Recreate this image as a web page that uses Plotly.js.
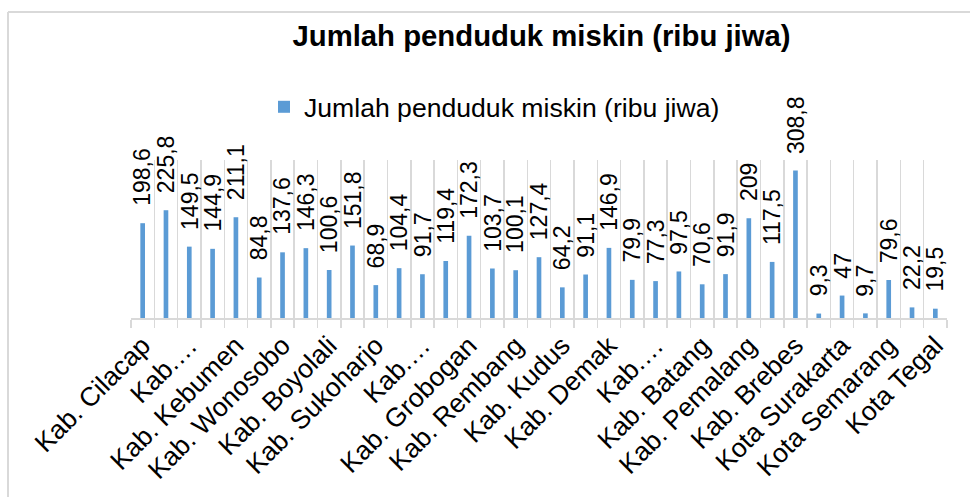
<!DOCTYPE html>
<html>
<head>
<meta charset="utf-8">
<script src="https://cdn.plot.ly/plotly-3.0.1.min.js"></script>
<style>html,body{margin:0;padding:0;background:#fff;}#chart{width:970px;height:497px;}</style>
</head>
<body>
<div id="chart"></div>
<script>
const categories = ["Kab. Cilacap","Kab. Banyumas","Kab. Purbalingga","Kab. Banjarnegara","Kab. Kebumen","Kab. Purworejo","Kab. Wonosobo","Kab. Magelang","Kab. Boyolali","Kab. Klaten","Kab. Sukoharjo","Kab. Wonogiri","Kab. Karanganyar","Kab. Sragen","Kab. Grobogan","Kab. Blora","Kab. Rembang","Kab. Pati","Kab. Kudus","Kab. Jepara","Kab. Demak","Kab. Semarang","Kab. Temanggung","Kab. Kendal","Kab. Batang","Kab. Pekalongan","Kab. Pemalang","Kab. Tegal","Kab. Brebes","Kota Magelang","Kota Surakarta","Kota Salatiga","Kota Semarang","Kota Pekalongan","Kota Tegal"];
const values = [198.6,225.8,149.5,144.9,211.1,84.8,137.6,146.3,100.6,151.8,68.9,104.4,91.7,119.4,172.3,103.7,100.1,127.4,64.2,91.1,146.9,79.9,77.3,97.5,70.6,91.9,209,117.5,308.8,9.3,47,9.7,79.6,22.2,19.5];
const tickLabels = ["Kab. Cilacap","","Kab.…","","Kab. Kebumen","","Kab. Wonosobo","","Kab. Boyolali","","Kab. Sukoharjo","","Kab.…","","Kab. Grobogan","","Kab. Rembang","","Kab. Kudus","","Kab. Demak","","Kab.…","","Kab. Batang","","Kab. Pemalang","","Kab. Brebes","","Kota Surakarta","","Kota Semarang","","Kota Tegal"];
const seriesName = "Jumlah penduduk miskin (ribu jiwa)";
const chartTitle = "Jumlah penduduk miskin (ribu jiwa)";

const labels = values.map(v => String(v).replace('.', ','));
const FONT = "'Liberation Sans', Arial, sans-serif";
const GRID = '#d9d9d9';

const trace = {
  type: 'bar',
  x: categories,
  y: values,
  name: seriesName,
  marker: {color: '#5B9BD5'},
  width: 0.2,
  hoverinfo: 'x+y'
};

// plot area in px: left 131, right 947, top 160, bottom 318
const L = 131, R = 947, T = 160, B = 318, W = 970, H = 497;
const px = x => (x - L) / (R - L);
const py = y => (B - y) / (B - T);

const annotations = categories.map((c, i) => ({
  x: c, y: values[i], xref: 'x', yref: 'y',
  text: labels[i], textangle: -90,
  showarrow: false, xanchor: 'center', yanchor: 'bottom',
  yshift: 15, xshift: 0,
  font: {family: FONT, size: 23, color: '#000'}
}));

const layout = {
  width: W, height: H,
  margin: {l: L, r: W - R, t: T, b: H - B, pad: 0},
  paper_bgcolor: '#fff', plot_bgcolor: '#fff',
  font: {family: FONT, color: '#000'},
  title: {
    text: '<b>' + chartTitle + '</b>',
    font: {family: FONT, size: 29.3, color: '#000'},
    x: 541.5 / W, xref: 'container', xanchor: 'center',
    y: 1 - 36 / H, yref: 'container', yanchor: 'middle'
  },
  showlegend: true,
  legend: {
    orientation: 'h',
    x: px(264), xanchor: 'left',
    y: py(107), yanchor: 'middle',
    font: {family: FONT, size: 26.6, color: '#000'},
    bgcolor: 'rgba(0,0,0,0)'
  },
  xaxis: {
    type: 'category',
    tickmode: 'array',
    tickvals: categories,
    ticktext: tickLabels,
    tickangle: -45,
    tickson: 'boundaries',
    ticks: 'outside', ticklen: 8, tickcolor: GRID, tickwidth: 1.5,
    showgrid: true, gridcolor: GRID, gridwidth: 1.5,
    showline: true, linecolor: GRID, linewidth: 1.5,
    tickfont: {family: FONT, size: 26.5, color: '#000'},
    range: [-0.5, categories.length - 0.5],
    fixedrange: true
  },
  yaxis: {
    range: [0, 331],
    showgrid: false, zeroline: false, showticklabels: false, showline: false, ticks: '',
    fixedrange: true
  },
  annotations: annotations,
  shapes: [
    {type: 'line', xref: 'paper', yref: 'paper', x0: px(8), x1: px(W), y0: py(12), y1: py(12), line: {color: GRID, width: 2}},
    {type: 'line', xref: 'paper', yref: 'paper', x0: px(8), x1: px(8), y0: py(12), y1: py(H), line: {color: GRID, width: 2}}
  ]
};

Plotly.newPlot('chart', [trace], layout, {displayModeBar: false, staticPlot: true});
</script>
</body>
</html>
